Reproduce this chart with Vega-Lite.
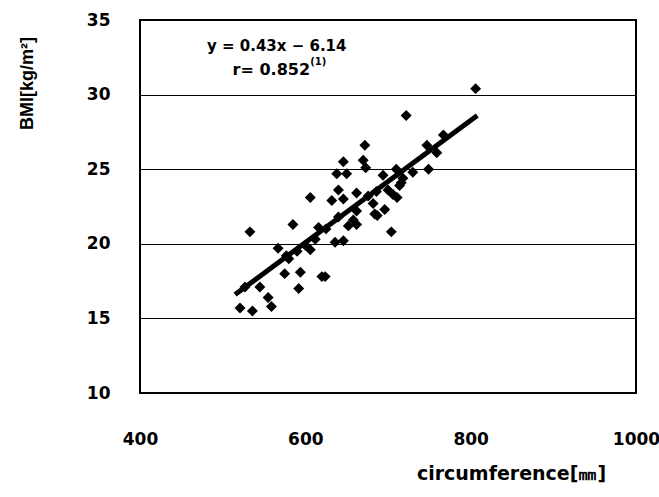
{
  "$schema": "https://vega.github.io/schema/vega-lite/v6.json",
  "width": 496,
  "height": 373,
  "autosize": {"type": "none"},
  "padding": {"left": 140, "top": 20, "right": 23, "bottom": 104},
  "background": "white",
  "config": {
    "font": "DejaVu Sans",
    "view": {"stroke": "black", "strokeWidth": 2},
    "axis": {"labelFont": "DejaVu Sans", "labelFontWeight": "bold", "labelFontSize": 17, "labelColor": "black", "titleFont": "DejaVu Sans", "titleFontWeight": "bold", "titleFontSize": 19, "titleColor": "black", "ticks": false, "domain": false, "labelFlush": false, "labelOverlap": false, "labelBound": false}
  },
  "datasets": {
    "pts": [
      {"c": 806, "bmi": 30.4}, {"c": 722, "bmi": 28.6}, {"c": 767, "bmi": 27.3}, {"c": 747, "bmi": 26.6},
      {"c": 759, "bmi": 26.1}, {"c": 749, "bmi": 25.0}, {"c": 672, "bmi": 26.6}, {"c": 646, "bmi": 25.5},
      {"c": 670, "bmi": 25.6}, {"c": 673, "bmi": 25.1}, {"c": 638, "bmi": 24.7}, {"c": 650, "bmi": 24.7},
      {"c": 694, "bmi": 24.6}, {"c": 710, "bmi": 25.0}, {"c": 718, "bmi": 24.4}, {"c": 714, "bmi": 23.9},
      {"c": 716, "bmi": 24.1}, {"c": 640, "bmi": 23.6}, {"c": 662, "bmi": 23.4}, {"c": 606, "bmi": 23.1},
      {"c": 632, "bmi": 22.9}, {"c": 646, "bmi": 23.0}, {"c": 706, "bmi": 23.3}, {"c": 711, "bmi": 23.1},
      {"c": 686, "bmi": 23.5}, {"c": 682, "bmi": 22.7}, {"c": 684, "bmi": 22.0}, {"c": 696, "bmi": 22.3},
      {"c": 687, "bmi": 21.9}, {"c": 662, "bmi": 22.2}, {"c": 658, "bmi": 21.6}, {"c": 652, "bmi": 21.2},
      {"c": 662, "bmi": 21.3}, {"c": 585, "bmi": 21.3}, {"c": 533, "bmi": 20.8}, {"c": 704, "bmi": 20.8},
      {"c": 616, "bmi": 21.1}, {"c": 636, "bmi": 20.1}, {"c": 646, "bmi": 20.2}, {"c": 606, "bmi": 19.6},
      {"c": 600, "bmi": 19.9}, {"c": 567, "bmi": 19.7}, {"c": 577, "bmi": 19.2}, {"c": 575, "bmi": 18.0},
      {"c": 594, "bmi": 18.1}, {"c": 620, "bmi": 17.8}, {"c": 624, "bmi": 17.8}, {"c": 592, "bmi": 17.0},
      {"c": 527, "bmi": 17.1}, {"c": 545, "bmi": 17.1}, {"c": 555, "bmi": 16.4}, {"c": 559, "bmi": 15.8},
      {"c": 521, "bmi": 15.7}, {"c": 536, "bmi": 15.5}, {"c": 580, "bmi": 19.0}, {"c": 612, "bmi": 20.3},
      {"c": 625, "bmi": 21.0}, {"c": 640, "bmi": 21.8}, {"c": 676, "bmi": 23.2}, {"c": 700, "bmi": 23.6},
      {"c": 730, "bmi": 24.8}, {"c": 590, "bmi": 19.5}
    ],
    "fit": [{"c": 515, "bmi": 16.6}, {"c": 808, "bmi": 28.6}]
  },
  "layer": [
    {
      "data": {"name": "pts"},
      "mark": {"type": "point", "shape": "diamond", "filled": true, "color": "black", "size": 120, "opacity": 1},
      "encoding": {
        "x": {"field": "c", "type": "quantitative", "scale": {"domain": [400, 1000], "nice": false},
          "axis": {"values": [400, 600, 800, 1000], "format": "d", "grid": false, "labelPadding": 38, "title": "circumference[㎜]", "titleX": 371, "titleY": 80, "titleAlign": "center", "titleBaseline": "middle"}},
        "y": {"field": "bmi", "type": "quantitative", "scale": {"domain": [10, 35], "nice": false},
          "axis": {"values": [10, 15, 20, 25, 30, 35], "format": "d", "grid": true, "gridColor": "black", "gridWidth": 1.2, "gridOpacity": 1, "labelPadding": 30, "title": "BMI[kg/m²]", "titleFont": "Liberation Sans", "titleFontSize": 18, "titleX": -113, "titleY": 63, "titleAngle": -90, "titleAlign": "center", "titleBaseline": "middle"}}
      }
    },
    {
      "data": {"name": "fit"},
      "mark": {"type": "line", "color": "black", "strokeWidth": 5},
      "encoding": {"x": {"field": "c", "type": "quantitative"}, "y": {"field": "bmi", "type": "quantitative"}}
    },
    {
      "data": {"values": [{"t": "y = 0.43x − 6.14"}]},
      "mark": {"type": "text", "font": "DejaVu Sans", "fontSize": 15, "fontWeight": "bold", "color": "black", "align": "left", "baseline": "middle"},
      "encoding": {"x": {"datum": 481}, "y": {"datum": 33.26}, "text": {"field": "t"}}
    },
    {
      "data": {"values": [{"t": "r= 0.852"}]},
      "mark": {"type": "text", "font": "DejaVu Sans", "fontSize": 16, "fontWeight": "bold", "color": "black", "align": "left", "baseline": "middle"},
      "encoding": {"x": {"datum": 512}, "y": {"datum": 31.65}, "text": {"field": "t"}}
    },
    {
      "data": {"values": [{"t": "(1)"}]},
      "mark": {"type": "text", "font": "DejaVu Sans", "fontSize": 10, "fontWeight": "bold", "color": "black", "align": "left", "baseline": "middle"},
      "encoding": {"x": {"datum": 606}, "y": {"datum": 32.2}, "text": {"field": "t"}}
    }
  ]
}
